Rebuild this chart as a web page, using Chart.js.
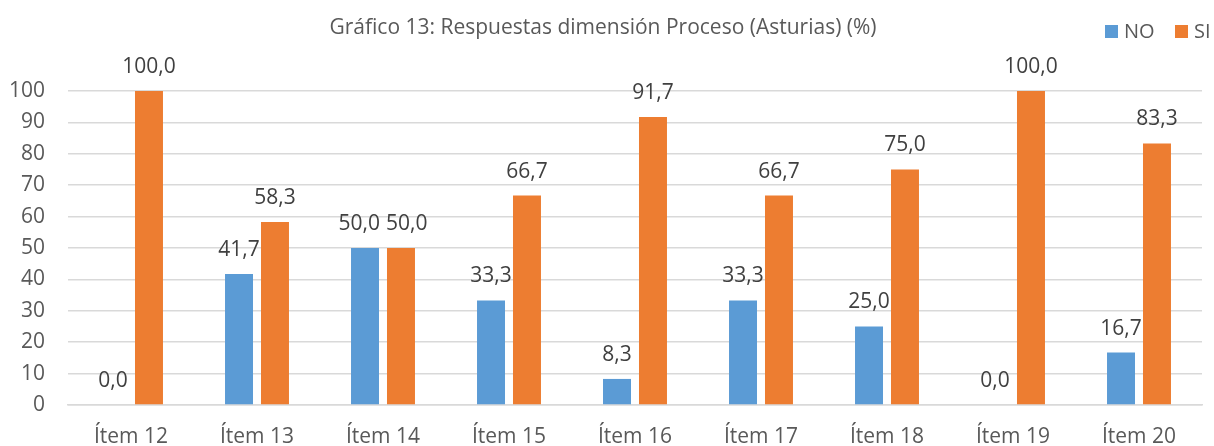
<!DOCTYPE html>
<html lang="es">
<head>
    <meta charset="UTF-8">
    <title>Gráfico 13</title>
    <script src="https://cdn.jsdelivr.net/npm/chart.js"></script>
    <style>
        html, body {
            margin: 0;
            padding: 0;
            background-color: white;
        }
        .chart-box {
            width: 1214px;
            height: 446px;
        }
    </style>
</head>
<body>
<div class="chart-box">
    <canvas id="chart"></canvas>
</div>
<script>
    const titleText = 'Gráfico 13: Respuestas dimensión Proceso (Asturias) (%)';
    const items = ['Ítem 12', 'Ítem 13', 'Ítem 14', 'Ítem 15', 'Ítem 16', 'Ítem 17', 'Ítem 18', 'Ítem 19', 'Ítem 20'];
    const noValues = [0.0, 41.7, 50.0, 33.3, 8.3, 33.3, 25.0, 0.0, 16.7];
    const siValues = [100.0, 58.3, 50.0, 66.7, 91.7, 66.7, 75.0, 100.0, 83.3];
    const yTicks = [0, 10, 20, 30, 40, 50, 60, 70, 80, 90, 100];

    const fontName = '"Open Sans", sans-serif';
    const textColor = '#595959';

    // value labels above each bar, spanish decimal comma
    const barLabels = {
        id: 'barLabels',
        afterDatasetsDraw(chart) {
            const ctx = chart.ctx;
            ctx.save();
            ctx.font = '21px ' + fontName;
            ctx.fillStyle = '#404040';
            ctx.textAlign = 'center';
            ctx.textBaseline = 'middle';

            const metaNo = chart.getDatasetMeta(0).data;
            const metaSi = chart.getDatasetMeta(1).data;
            items.forEach((_, j) => {
                const a = metaNo[j], b = metaSi[j];
                const ta = noValues[j].toFixed(1).replace('.', ',');
                const tb = siValues[j].toFixed(1).replace('.', ',');
                let xa = a.x, xb = b.x;
                const ya = a.y - 24, yb = b.y - 24;
                // push apart when the two labels would touch (like excel does)
                if (Math.abs(ya - yb) < 20) {
                    const overlap = (xa + ctx.measureText(ta).width / 2 + 6) - (xb - ctx.measureText(tb).width / 2);
                    if (overlap > 0) {
                        xa -= overlap / 2;
                        xb += overlap / 2;
                    }
                }
                ctx.fillText(ta, xa, ya);
                ctx.fillText(tb, xb, yb);
            });
            ctx.restore();
        }
    };

    // title and legend sit on the same row, so draw them by hand
    const header = {
        id: 'header',
        afterDraw(chart) {
            const ctx = chart.ctx;
            ctx.save();
            ctx.font = '21px ' + fontName;
            ctx.fillStyle = textColor;
            ctx.textAlign = 'center';
            ctx.textBaseline = 'middle';
            ctx.fillText(titleText, 603, 28);

            ctx.font = '20px ' + fontName;
            ctx.textAlign = 'left';
            let x = 1105;
            chart.data.datasets.forEach(ds => {
                ctx.fillStyle = ds.backgroundColor;
                ctx.fillRect(x, 25, 13, 13);
                ctx.fillStyle = textColor;
                ctx.fillText(ds.label, x + 19, 32);
                x += 70;
            });
            ctx.restore();
        }
    };

    new Chart(document.getElementById('chart'), {
        type: 'bar',
        data: {
            labels: items,
            datasets: [
                {
                    label: 'NO',
                    data: noValues,
                    backgroundColor: '#5B9BD5',
                    categoryPercentage: 0.571,
                    barPercentage: 0.778
                },
                {
                    label: 'SI',
                    data: siValues,
                    backgroundColor: '#ED7D31',
                    categoryPercentage: 0.571,
                    barPercentage: 0.778
                }
            ]
        },
        options: {
            responsive: true,
            maintainAspectRatio: false,
            animation: false,
            layout: {
                padding: { top: 91, right: 12, left: 0, bottom: 0 }
            },
            plugins: {
                legend: { display: false },
                title: { display: false },
                tooltip: { enabled: false }
            },
            scales: {
                x: {
                    grid: { display: false },
                    border: { color: '#d9d9d9', width: 1.5 },
                    ticks: {
                        color: textColor,
                        font: { family: fontName, size: 21 },
                        padding: 11,
                        maxRotation: 0
                    },
                    afterFit(scale) { scale.height = 41; }
                },
                y: {
                    min: 0,
                    max: 100,
                    afterBuildTicks(scale) {
                        scale.ticks = yTicks.map(v => ({ value: v }));
                    },
                    grid: { color: '#d9d9d9', lineWidth: 1.5, drawTicks: false },
                    border: { display: false },
                    ticks: {
                        color: textColor,
                        font: { family: fontName, size: 21 },
                        padding: 23
                    },
                    afterFit(scale) { scale.width = 68; }
                }
            }
        },
        plugins: [barLabels, header]
    });
</script>
</body>
</html>
